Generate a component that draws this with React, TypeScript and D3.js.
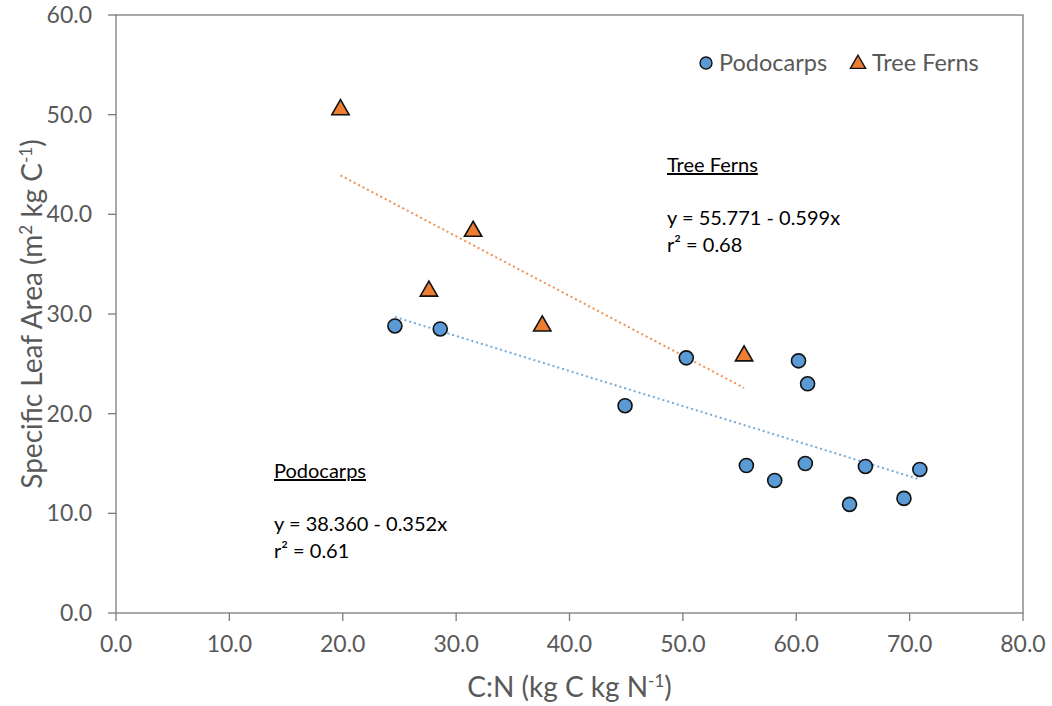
import React from 'react';
import * as d3 from 'd3';

// Podocarps (circles)
const podoCN = [24.6, 28.6, 44.9, 50.3, 55.6, 58.1, 60.2, 61.0, 60.8, 64.7, 66.1, 69.5, 70.9];
const podoSLA = [28.8, 28.5, 20.8, 25.6, 14.8, 13.3, 25.3, 23.0, 15.0, 10.9, 14.7, 11.5, 14.4];

// Tree ferns (triangles)
const fernCN = [19.8, 31.5, 27.6, 37.6, 55.4];
const fernSLA = [50.5, 38.3, 32.3, 28.8, 25.8];

// regression fits shown on chart
const podoFit = { a: 38.36, b: -0.352, label: 'y = 38.360 - 0.352x', r2: 'r² = 0.61' };
const fernFit = { a: 55.771, b: -0.599, label: 'y = 55.771 - 0.599x', r2: 'r² = 0.68' };

const xTicks = [0, 10, 20, 30, 40, 50, 60, 70, 80];
const yTicks = [0, 10, 20, 30, 40, 50, 60];

const W = 1052;
const H = 706;
const margin = { left: 116, right: 29, top: 15, bottom: 93 };

const BLUE = '#5B9BD5';
const ORANGE = '#ED7D31';
const AXIS = '#7a7a7a';
const TEXT = '#595959';
const FONT = 'Lato, "Open Sans", sans-serif';

const App = () => {
  const x = d3.scaleLinear().domain([0, 80]).range([margin.left, W - margin.right]);
  const y = d3.scaleLinear().domain([0, 60]).range([H - margin.bottom, margin.top]);

  const tri = d3.symbol().type(d3.symbolTriangle).size(130)();

  const fitLine = (fit, xs) => {
    const lo = d3.min(xs);
    const hi = d3.max(xs);
    return d3.line()([
      [x(lo), y(fit.a + fit.b * lo)],
      [x(hi), y(fit.a + fit.b * hi)],
    ]);
  };

  const x0 = x(0), x1 = x(80), y0 = y(0), y1 = y(60);

  return (
    <svg width={W} height={H} style={{ position: 'absolute', left: 0, top: 0, background: '#fff' }} fontFamily={FONT}>
      {/* plot frame */}
      <rect x={x0} y={y1} width={x1 - x0} height={y0 - y1} fill="none" stroke={AXIS} strokeWidth={1.3} />

      {/* y ticks */}
      {yTicks.map((t) => (
        <g key={'y' + t}>
          <line x1={x0 - 8} x2={x0} y1={y(t)} y2={y(t)} stroke={AXIS} strokeWidth={1.3} />
          <text x={x0 - 24} y={y(t)} dy="0.35em" textAnchor="end" fontSize={23} fill={TEXT}>
            {t.toFixed(1)}
          </text>
        </g>
      ))}

      {/* x ticks */}
      {xTicks.map((t) => (
        <g key={'x' + t}>
          <line x1={x(t)} x2={x(t)} y1={y0} y2={y0 + 8} stroke={AXIS} strokeWidth={1.3} />
          <text x={x(t)} y={y0 + 31} dy="0.35em" textAnchor="middle" fontSize={23} fill={TEXT}>
            {t.toFixed(1)}
          </text>
        </g>
      ))}

      {/* axis titles */}
      <text x={(x0 + x1) / 2} y={687} dy="0.35em" textAnchor="middle" fontSize={28} fill={TEXT}>
        C:N (kg C kg N<tspan dy="-10" fontSize={17}>-1</tspan><tspan dy="10">)</tspan>
      </text>
      <text
        transform={`translate(32, ${(y0 + y1) / 2}) rotate(-90)`}
        dy="0.35em"
        textAnchor="middle"
        fontSize={28}
        fill={TEXT}
      >
        Specific Leaf Area (m<tspan dy="-10" fontSize={17}>2</tspan><tspan dy="10"> kg C</tspan>
        <tspan dy="-10" fontSize={17}>-1</tspan><tspan dy="10">)</tspan>
      </text>

      {/* trend lines */}
      <path d={fitLine(fernFit, fernCN)} stroke={ORANGE} strokeWidth={2} strokeDasharray="2 3" fill="none" opacity={0.85} />
      <path d={fitLine(podoFit, podoCN)} stroke={BLUE} strokeWidth={2} strokeDasharray="2 3" fill="none" opacity={0.85} />

      {/* points */}
      {podoCN.map((c, i) => (
        <circle key={'p' + i} cx={x(c)} cy={y(podoSLA[i])} r={7} fill={BLUE} stroke="#111" strokeWidth={1.6} />
      ))}
      {fernCN.map((c, i) => (
        <path key={'f' + i} d={tri} transform={`translate(${x(c)}, ${y(fernSLA[i])})`} fill={ORANGE} stroke="#111" strokeWidth={1.6} />
      ))}

      {/* legend */}
      <circle cx={706} cy={63} r={6} fill={BLUE} stroke="#111" strokeWidth={1.4} />
      <text x={719} y={63} dy="0.35em" fontSize={23.5} fill={TEXT}>Podocarps</text>
      <path d={d3.symbol().type(d3.symbolTriangle).size(100)()} transform="translate(858, 64)" fill={ORANGE} stroke="#111" strokeWidth={1.4} />
      <text x={872} y={63} dy="0.35em" fontSize={23.5} fill={TEXT}>Tree Ferns</text>

      {/* fit annotations */}
      <g fontSize={20} fill="#000">
        <text x={667} y={172} textDecoration="underline">Tree Ferns</text>
        <text x={667} y={225}>{fernFit.label}</text>
        <text x={667} y={252}>{fernFit.r2}</text>
        <text x={274} y={478} textDecoration="underline">Podocarps</text>
        <text x={274} y={531}>{podoFit.label}</text>
        <text x={274} y={558}>{podoFit.r2}</text>
      </g>
    </svg>
  );
};

export default App;
